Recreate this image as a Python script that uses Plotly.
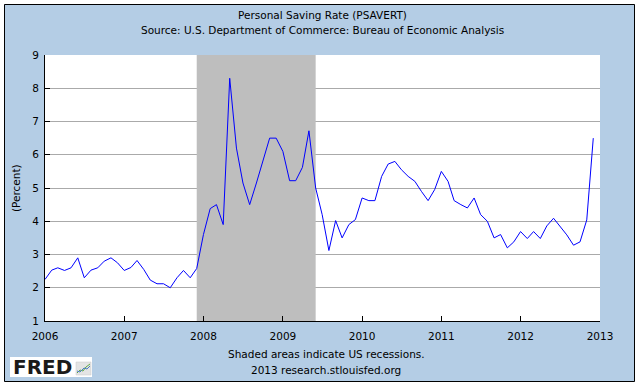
import plotly.graph_objects as go
import pandas as pd

# ---------------- data ----------------
months = pd.date_range("2006-01-01", "2012-12-01", freq="MS").strftime("%Y-%m-%d").tolist()
rate_2006 = [2.25, 2.53, 2.6, 2.52, 2.6, 2.9, 2.3, 2.53, 2.6, 2.8, 2.9, 2.75]
rate_2007 = [2.52, 2.61, 2.82, 2.55, 2.23, 2.12, 2.12, 2.0, 2.3, 2.52, 2.3, 2.58]
rate_2008 = [3.6, 4.38, 4.5, 3.9, 8.3, 6.2, 5.15, 4.5, 5.15, 5.85, 6.5, 6.5]
rate_2009 = [6.1, 5.22, 5.22, 5.62, 6.72, 5.0, 4.2, 3.12, 4.02, 3.5, 3.9, 4.05]
rate_2010 = [4.7, 4.62, 4.62, 5.35, 5.72, 5.8, 5.55, 5.35, 5.2, 4.9, 4.62, 4.95]
rate_2011 = [5.5, 5.2, 4.62, 4.5, 4.4, 4.7, 4.2, 4.0, 3.5, 3.6, 3.2, 3.38]
rate_2012 = [3.69, 3.48, 3.69, 3.48, 3.86, 4.09, 3.86, 3.59, 3.28, 3.38, 4.04, 6.5]
saving_rate = rate_2006 + rate_2007 + rate_2008 + rate_2009 + rate_2010 + rate_2011 + rate_2012

recession_start = "2007-12-01"
recession_end = "2009-06-01"
y_ticks = [1, 2, 3, 4, 5, 6, 7, 8, 9]
year_ticks = ["2006-01-01", "2007-01-01", "2008-01-01", "2009-01-01",
              "2010-01-01", "2011-01-01", "2012-01-01", "2013-01-01"]
year_labels = ["2006", "2007", "2008", "2009", "2010", "2011", "2012", "2013"]

title_1 = "Personal Saving Rate (PSAVERT)"
title_2 = "Source: U.S. Department of Commerce: Bureau of Economic Analysis"
note_1 = "Shaded areas indicate US recessions."
note_2 = "2013 research.stlouisfed.org"

# ---------------- layout geometry ----------------
W, H = 640, 387
L, R, T, B = 45, 40, 55, 66
PW, PH = W - L - R, H - T - B
BG = "#B4CDE5"
FONT = "DejaVu Sans"
FS = 10.5


def px(x):
    return (x - L) / PW


def py(y):
    return (H - B - y) / PH


fig = go.Figure()

# recession shading (drawn above gridlines, below the series)
fig.add_trace(go.Scatter(
    x=[recession_start, recession_start, recession_end, recession_end],
    y=[y_ticks[0], y_ticks[-1], y_ticks[-1], y_ticks[0]],
    fill="toself", fillcolor="#BEBEBE", mode="lines",
    line=dict(color="#BEBEBE", width=0), hoverinfo="skip", showlegend=False))

fig.add_trace(go.Scatter(
    x=months, y=saving_rate, mode="lines",
    line=dict(color="#0000FF", width=1), showlegend=False))

shapes = []
# outer white margin and black frame
for x0, x1, y0, y1 in [(0, 4, 0, H), (635, W, 0, H), (0, W, 0, 4), (0, W, 382, H)]:
    shapes.append(dict(type="rect", xref="paper", yref="paper",
                       x0=px(x0), x1=px(x1), y0=py(y1), y1=py(y0),
                       fillcolor="white", line=dict(width=0), layer="above"))
shapes.append(dict(type="rect", xref="paper", yref="paper",
                   x0=px(4.5), x1=px(634.5), y0=py(381.5), y1=py(4.5),
                   fillcolor="rgba(0,0,0,0)", line=dict(color="black", width=1), layer="above"))
# FRED logo box
shapes.append(dict(type="rect", xref="paper", yref="paper",
                   x0=px(10), x1=px(92), y0=py(377), y1=py(357),
                   fillcolor="white", line=dict(width=0), layer="above"))
# small chart icon
shapes.append(dict(type="rect", xref="paper", yref="paper",
                   x0=px(76), x1=px(91), y0=py(375), y1=py(362),
                   fillcolor="#E4E4E4", line=dict(color="#C8C8C8", width=0.5), layer="above"))
shapes.append(dict(type="path", xref="paper", yref="paper",
                   path=f"M {px(77)},{py(373)} L {px(80)},{py(370)} L {px(83)},{py(371)} L {px(86)},{py(367)} L {px(90)},{py(364)}",
                   line=dict(color="#5FA845", width=1), layer="above"))
shapes.append(dict(type="path", xref="paper", yref="paper",
                   path=f"M {px(77)},{py(371)} L {px(80)},{py(372)} L {px(84)},{py(368)} L {px(87)},{py(369)} L {px(90)},{py(366)}",
                   line=dict(color="#4A7FC1", width=1), layer="above"))


def note(text, x, y, **kw):
    d = dict(text=text, x=px(x), y=py(y), xref="paper", yref="paper",
             xanchor="center", yanchor="middle", showarrow=False,
             font=dict(family=FONT, size=FS, color="black"))
    d.update(kw)
    return d


annotations = [
    note(title_1, 322, 15),
    note(title_2, 322, 30),
    note("(Percent)", 16, 188, textangle=-90),
    note(note_1, 326, 354),
    note(note_2, 326, 370),
    note("<b>FRED</b>", 11, 367, xanchor="left",
         font=dict(family="DejaVu Sans", size=20, color="#1a1a1a")),
]

fig.update_layout(
    width=W, height=H,
    margin=dict(l=L, r=R, t=T, b=B, pad=0),
    paper_bgcolor=BG, plot_bgcolor="white",
    font=dict(family=FONT, size=FS, color="black"),
    shapes=shapes, annotations=annotations,
    showlegend=False,
    xaxis=dict(type="date", range=[year_ticks[0], year_ticks[-1]],
               tickvals=year_ticks, ticktext=year_labels,
               ticks="inside", ticklen=5, tickcolor="black", tickwidth=1,
               ticklabelstandoff=5,
               showline=True, linecolor="black", linewidth=1,
               showgrid=False, zeroline=False, fixedrange=True, automargin=False),
    yaxis=dict(range=[y_ticks[0], y_ticks[-1]], tickvals=y_ticks,
               ticks="inside", ticklen=5, tickcolor="black", tickwidth=1,
               ticklabelstandoff=3,
               showline=True, linecolor="black", linewidth=1,
               showgrid=True, gridcolor="#AAAAAA", gridwidth=1,
               zeroline=False, fixedrange=True, automargin=False),
)

fig.write_html("out.html", config={"displayModeBar": False},
               post_script="document.body.style.margin='0';document.body.style.padding='0';")
